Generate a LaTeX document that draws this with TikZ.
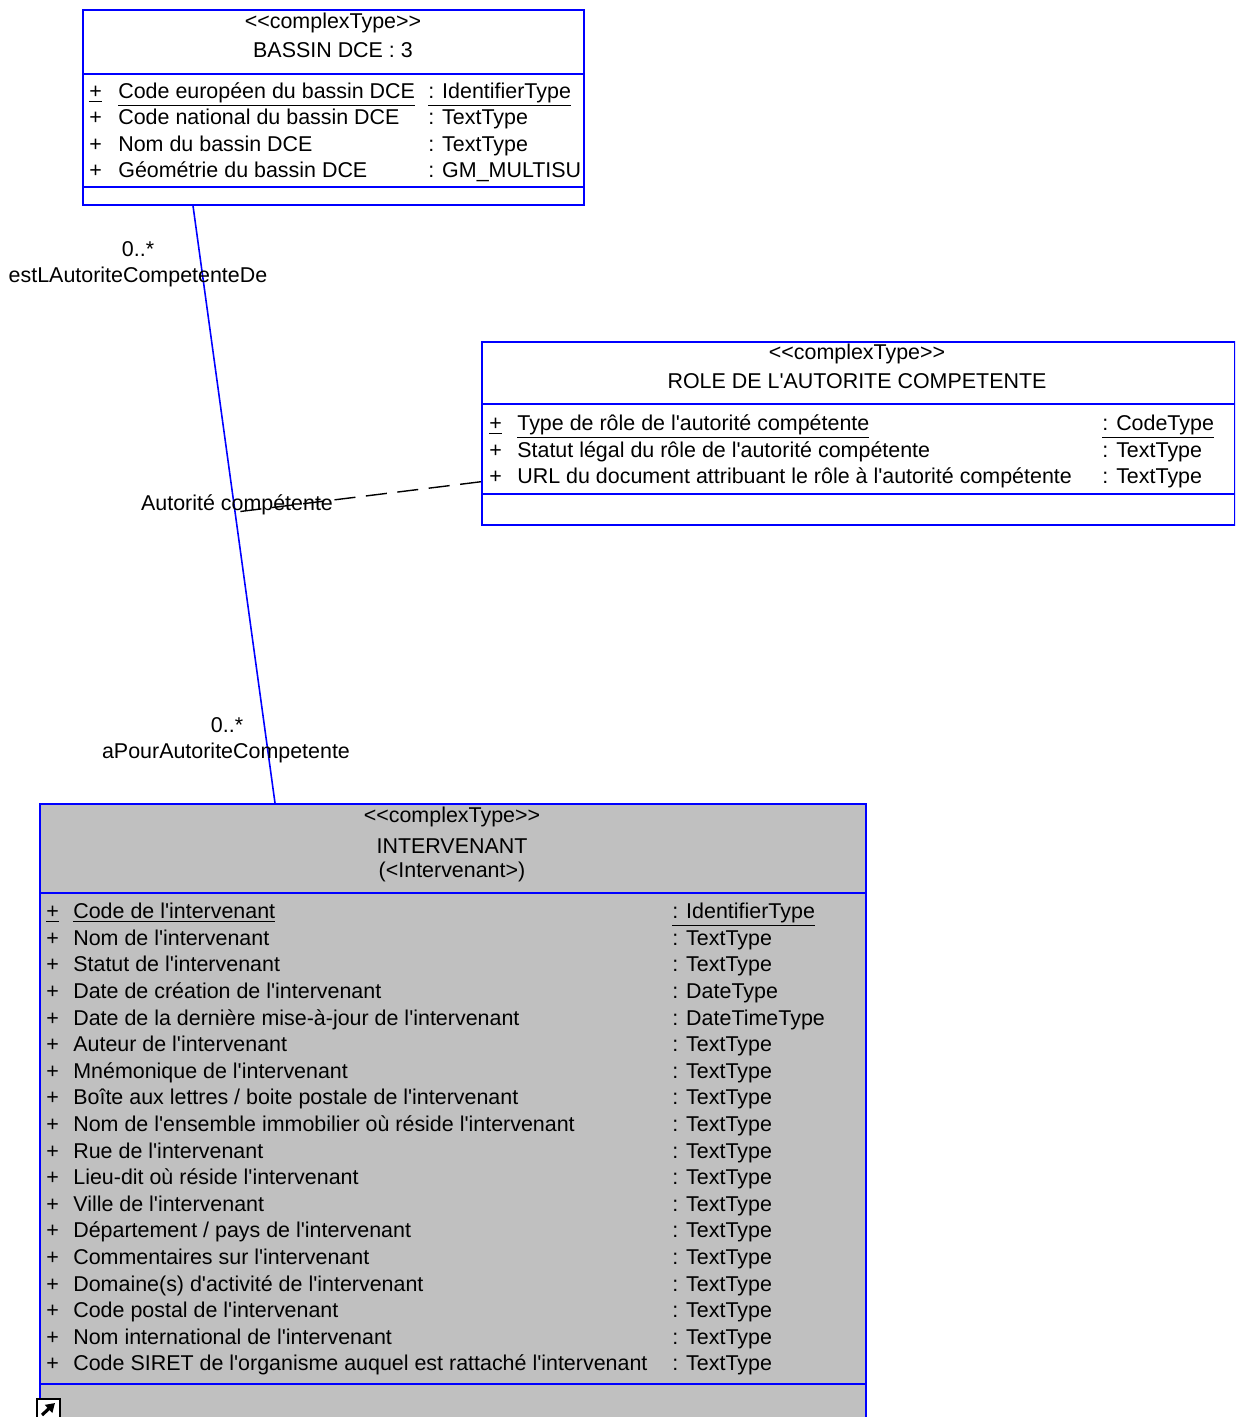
\documentclass[tikz,border=0pt]{standalone}
\usepackage{fontspec}
\usepackage{tikz}
\usetikzlibrary{calc,arrows.meta}
\newfontfamily\umlfont{Liberation Sans}
\definecolor{umlblue}{RGB}{0,0,255}
\definecolor{umlgray}{RGB}{192,192,192}

\tikzset{
	classbox/.style={draw=umlblue, line width=1pt, fill=white, inner sep=0pt, anchor=north west},
	sepline/.style={draw=umlblue, line width=1pt},
	txt/.style={font=\umlfont\fontsize{12.2pt}{14pt}\selectfont, inner sep=0pt, text height=9pt, text depth=2.5pt, yshift=-1.1pt},
	attr/.style={txt, anchor=west},
	assoc/.style={draw=umlblue, line width=0.9pt},
	depline/.style={draw=black, line width=0.8pt, dash pattern=on 12pt off 6pt},
}

\begin{document}
\begin{tikzpicture}[x=0.02cm, y=-0.02cm]
	\useasboundingbox (0,0) rectangle (1235,1417);
	\clip (0,0) rectangle (1235,1417);

	% BASSIN DCE
	\node[classbox, minimum width=10.02cm, minimum height=3.9cm] (bassin) at (82,9) {};
	\draw[sepline] (bassin.north west) ++(0,65) -- ++(501,0);
	\draw[sepline] (bassin.north west) ++(0,178) -- ++(501,0);
	\node[txt] (bassin-st) at (333,21) {<<complexType>>};
	\node[txt] (bassin-nm) at (333,50) {BASSIN DCE : 3};
	\node[attr] (bassin-v1) at (89,91) {\underline{+}};
	\node[attr] (bassin-a1) at (118,91) {\underline{Code européen du bassin DCE}};
	\node[attr] (bassin-t1) at (428,91) {\underline{: IdentifierType}};
	\foreach \name/\type [count=\i from 2] in {Code national du bassin DCE/TextType, Nom du bassin DCE/TextType, Géométrie du bassin DCE/GM\_MULTISU} {
		\node[attr] (bassin-v\i) at (89,{91+26.3*(\i-1)}) {+};
		\node[attr] (bassin-a\i) at (118,{91+26.3*(\i-1)}) {\name};
		\node[attr] (bassin-t\i) at (428,{91+26.3*(\i-1)}) {: \type};
	}

	% ROLE DE L'AUTORITE COMPETENTE
	\node[classbox, minimum width=15.06cm, minimum height=3.66cm] (role) at (481,341) {};
	\draw[sepline] (role.north west) ++(0,63) -- ++(753,0);
	\draw[sepline] (role.north west) ++(0,153) -- ++(753,0);
	\node[txt] (role-st) at (857,352) {<<complexType>>};
	\node[txt] (role-nm) at (857,381) {ROLE DE L'AUTORITE COMPETENTE};
	\node[attr] (role-v1) at (489,423) {\underline{+}};
	\node[attr] (role-a1) at (517,423) {\underline{Type de rôle de l'autorité compétente}};
	\node[attr] (role-t1) at (1102,423) {\underline{: CodeType}};
	\foreach \name/\type [count=\i from 2] in {Statut légal du rôle de l'autorité compétente/TextType, URL du document attribuant le rôle à l'autorité compétente/TextType} {
		\node[attr] (role-v\i) at (489,{423+26.5*(\i-1)}) {+};
		\node[attr] (role-a\i) at (517,{423+26.5*(\i-1)}) {\name};
		\node[attr] (role-t\i) at (1102,{423+26.5*(\i-1)}) {: \type};
	}

	% INTERVENANT
	\node[classbox, fill=umlgray, minimum width=16.52cm, minimum height=12.8cm] (interv) at (39,803) {};
	\draw[sepline] (interv.north west) ++(0,90) -- ++(826,0);
	\draw[sepline] (interv.north west) ++(0,581) -- ++(826,0);
	\node[txt] (interv-st) at (452,815) {<<complexType>>};
	\node[txt] (interv-nm) at (452,846) {INTERVENANT};
	\node[txt] (interv-al) at (452,870) {(<Intervenant>)};
	\node[attr] (interv-v1) at (46,911) {\underline{+}};
	\node[attr] (interv-a1) at (73,911) {\underline{Code de l'intervenant}};
	\node[attr] (interv-t1) at (672,911) {\underline{: IdentifierType}};
	\foreach \name/\type [count=\i from 2] in {
		Nom de l'intervenant/TextType,
		Statut de l'intervenant/TextType,
		Date de création de l'intervenant/DateType,
		Date de la dernière mise-à-jour de l'intervenant/DateTimeType,
		Auteur de l'intervenant/TextType,
		Mnémonique de l'intervenant/TextType,
		{Boîte aux lettres / boite postale de l'intervenant}/TextType,
		Nom de l'ensemble immobilier où réside l'intervenant/TextType,
		Rue de l'intervenant/TextType,
		Lieu-dit où réside l'intervenant/TextType,
		Ville de l'intervenant/TextType,
		{Département / pays de l'intervenant}/TextType,
		Commentaires sur l'intervenant/TextType,
		Domaine(s) d'activité de l'intervenant/TextType,
		Code postal de l'intervenant/TextType,
		Nom international de l'intervenant/TextType,
		Code SIRET de l'organisme auquel est rattaché l'intervenant/TextType} {
		\node[attr] (interv-v\i) at (46,{911+26.6*(\i-1)}) {+};
		\node[attr] (interv-a\i) at (73,{911+26.6*(\i-1)}) {\name};
		\node[attr] (interv-t\i) at (672,{911+26.6*(\i-1)}) {: \type};
	}
	% shortcut icon
	\draw[fill=white, line width=0.8pt] (37,1399) rectangle (60,1422);
	\draw[-{Triangle[length=5pt,width=6pt]}, line width=1.8pt] (42,1415) -- (55,1403);

	% association
	\draw[assoc] (bassin.south west) ++(111,0) -- coordinate[pos=0.513] (assocmid) ($(interv.north west)+(236,0)$);
	\node[txt] (multA) at (138,249) {0..*};
	\node[txt] (roleA) at (138,275) {estLAutoriteCompetenteDe};
	\node[txt] (multB) at (227,725) {0..*};
	\node[txt] (roleB) at (226,751) {aPourAutoriteCompetente};
	\node[txt] (assocname) at (237,503) {Autorité compétente};
	\draw[depline] ($(role.south west)+(0,-44)$) -- (assocmid);
\end{tikzpicture}
\end{document}
